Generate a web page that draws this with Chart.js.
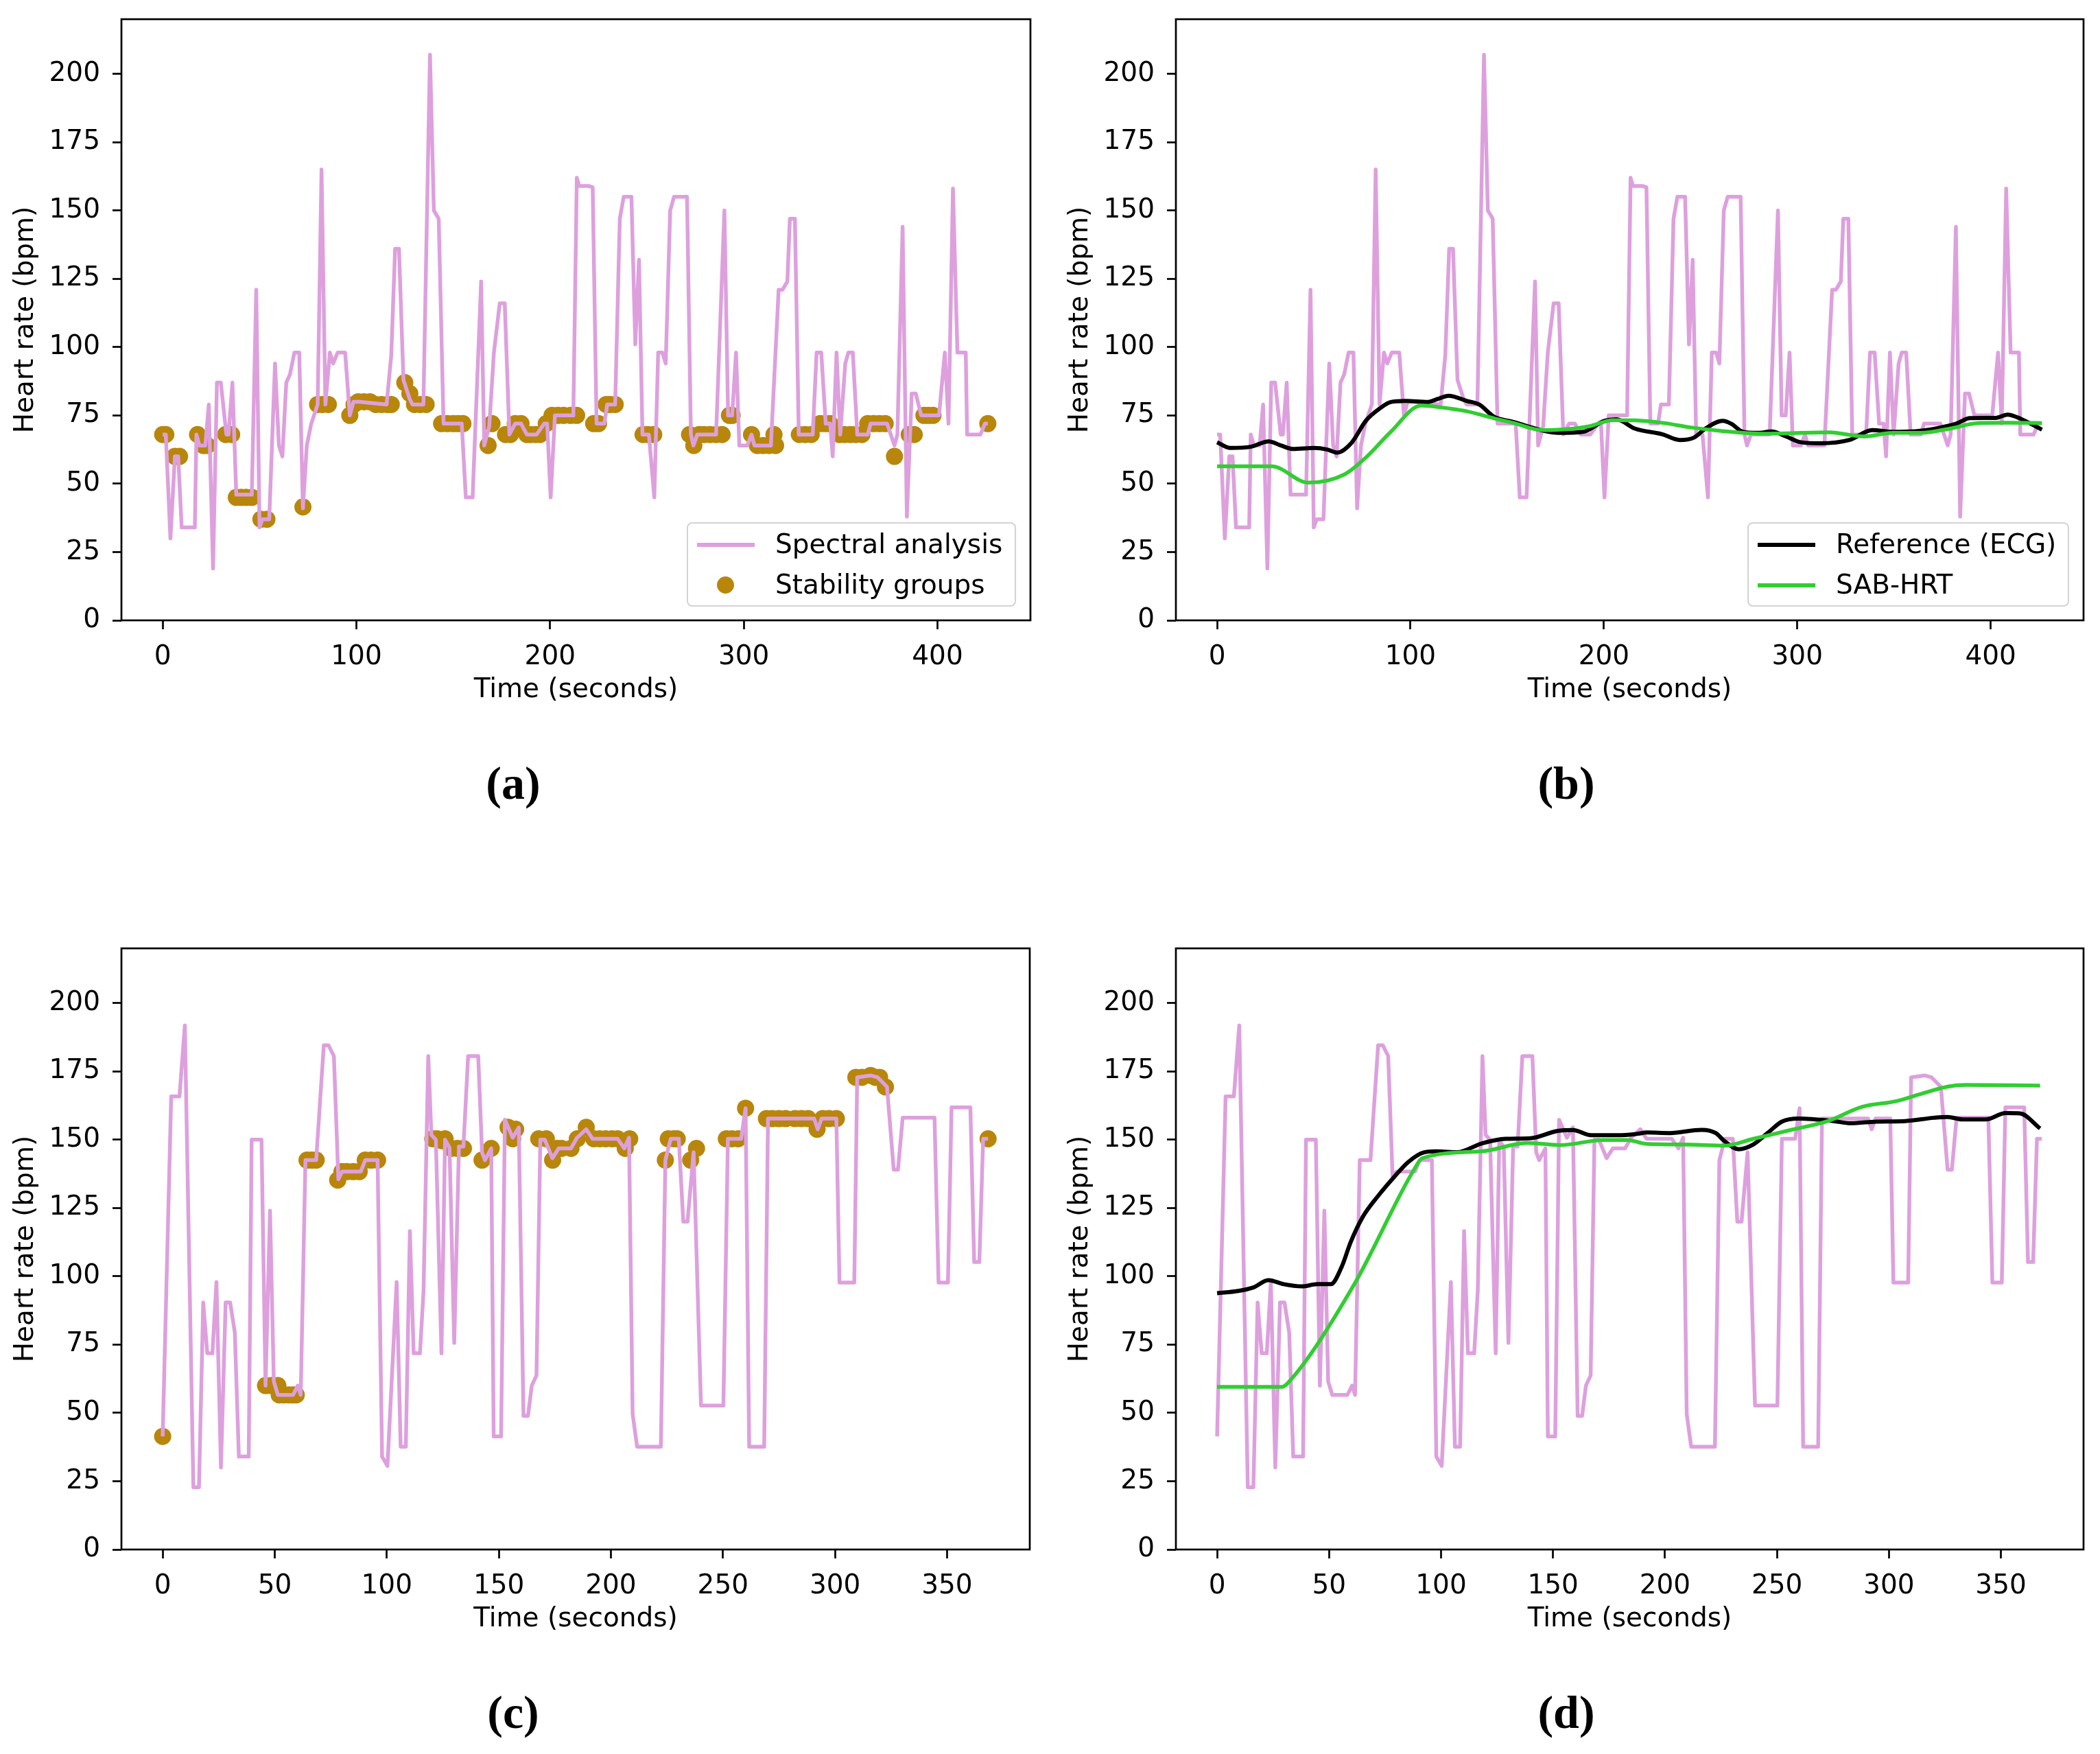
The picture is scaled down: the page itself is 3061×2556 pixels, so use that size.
<!DOCTYPE html>
<html><head><meta charset="utf-8">
<script src="https://cdn.jsdelivr.net/npm/chart.js@4.4.1/dist/chart.umd.min.js"></script>
<style>
html,body{margin:0;padding:0;background:#fff;}
body{width:3061px;height:2556px;position:relative;overflow:hidden;font-family:'DejaVu Sans',sans-serif;}
canvas{position:absolute;}
.sub{position:absolute;font-family:'Liberation Serif','DejaVu Serif',serif;font-weight:bold;font-size:68px;line-height:1;transform:translate(-50%,-50%);color:#000;}
.legend{position:absolute;box-sizing:border-box;border:2.5px solid #d3d3d3;border-radius:8px;background:rgba(255,255,255,0.8);}
.lt{position:absolute;font-family:'DejaVu Sans';font-size:39px;line-height:46px;color:#000;white-space:nowrap;}
.ls{position:absolute;height:5.5px;}
.ld{position:absolute;width:25px;height:25px;border-radius:50%;background:#B8860B;}
</style></head>
<body>
<canvas id="ca"></canvas><canvas id="cb"></canvas><canvas id="cc"></canvas><canvas id="cd"></canvas>

<div class="legend" style="left:1001px;top:761px;width:480px;height:123px;">
  <div class="ls" style="left:13px;top:28px;width:84px;background:#DDA0DD;"></div>
  <div class="lt" style="left:127px;top:7px;">Spectral analysis</div>
  <div class="ld" style="left:42px;top:77px;"></div>
  <div class="lt" style="left:127px;top:66px;">Stability groups</div>
</div>
<div class="legend" style="left:2547px;top:761px;width:469px;height:123px;">
  <div class="ls" style="left:13px;top:28px;width:84px;background:#000;"></div>
  <div class="lt" style="left:127px;top:7px;">Reference (ECG)</div>
  <div class="ls" style="left:13px;top:87px;width:84px;background:#32CD32;"></div>
  <div class="lt" style="left:127px;top:66px;">SAB-HRT</div>
</div>

<div class="sub" style="left:748px;top:1141px;">(a)</div>
<div class="sub" style="left:2283px;top:1141px;">(b)</div>
<div class="sub" style="left:748px;top:2495px;">(c)</div>
<div class="sub" style="left:2283px;top:2495px;">(d)</div>

<script>
// ---------- data (time in seconds, heart rate in bpm) ----------
const spectralA = [[0,68],[1.6,68],[4,30],[6.3,60],[8,60],[9.8,34],[16.6,34],[17.4,68],[19,64],[22,64],[23.8,79],[26,19],[28,87],[30,87],[32.9,68],[34,68],[36,87],[38,46],[46,46],[48.3,121],[50,34],[51.5,37],[55,37],[58,94],[60,64],[61.8,60],[63.8,87],[65.7,90],[68,98],[70.5,98],[72.4,41],[74.4,64],[76.7,72],[80,79],[82,165],[84,79],[86.3,98],[88,94],[90.3,98],[94.2,98],[96.6,75],[98.5,80],[101.5,80],[115.6,79],[118,97],[120,136],[122,136],[124.3,88],[127.5,81],[129,79],[134.6,79],[138,207],[140,150],[142.5,147],[145,72],[154.4,72],[156.5,45],[160,45],[164.4,124],[166,64],[168.6,71],[171,98],[174,116],[176.6,116],[179,68],[182,72],[185,72],[188,68],[193,68],[197,72],[198.5,72],[200.3,45],[202.5,75],[212,75],[213.8,162],[215,159],[219.8,159],[222,158.5],[224,72],[228,72],[229.5,79],[233.6,79],[236,147],[238,155],[242,155],[244,101],[245.9,132],[247.7,68],[251,68],[253.8,45],[255.8,98],[258,98],[259.7,94],[262,150],[264,155],[270.7,155],[272.7,68],[274,64],[276,68],[285.7,68],[290,150],[291.9,75],[294,75],[296,98],[297.7,64],[301.8,64],[304,68],[305.5,64],[314,64],[318,121],[320,121],[322.5,124],[323.8,147],[326.4,147],[328.4,68],[335.6,68],[337.6,98],[340,98],[342.3,72],[344.6,72],[345.9,60],[347.9,98],[349.8,68],[352.4,94],[354,98],[356.3,98],[358.6,68],[364,68],[365.5,72],[374,72],[377.8,64],[379.3,68],[382,144],[384.2,38],[386.7,83],[388.8,83],[391.6,75],[400.8,75],[403.8,98],[405.7,72],[408,158],[410.3,98],[414.6,98],[415.3,68],[422.2,68],[424.5,72],[426,72]];

const stabilityA = [[0,68],[1.6,68],[6.3,60],[8.7,60],[18,68],[21,64],[23,64],[32.5,68],[35.6,68],[38,45],[40.5,45],[43,45],[46,45],[50.7,37],[53.8,37],[72.4,41.5],[80,79],[82.5,79],[85.5,79],[96.6,75],[98.8,79],[101,80],[104,80],[107,80],[110,79],[113,79],[116,79],[118,79],[125,87],[127.6,83],[130,79],[133,79],[136,79],[144,72],[147,72],[150,72],[152.5,72],[155,72],[168,64],[170,72],[177,68],[179.5,68],[182,72],[185,72],[188,68],[190,68],[192.5,68],[194.8,68],[198,72],[201,75],[204,75],[207,75],[210.6,75],[213.7,75],[222.5,72],[225,72],[229,79],[231,79],[233.6,79],[248,68],[250.5,68],[253.5,68],[272,68],[274.2,64],[277,68],[279.6,68],[282.6,68],[285.7,68],[288.8,68],[292.6,75],[294,75],[304,68],[307,64],[310,64],[313,64],[315.6,68],[316.4,64],[328.7,68],[331.7,68],[334.8,68],[339.4,72],[342,72],[344.5,72],[349.4,68],[352,68],[355,68],[357.8,68],[361,68],[364,72],[367,72],[370,72],[373,72],[377.8,60],[385.4,68],[388,68],[393,75],[395.3,75],[397.7,75],[426,72]];

const referenceB = [[0,65.2],[6.9,63.1],[17.2,63.5],[26.7,65.5],[33,64],[39.3,62.7],[50.3,63.1],[57,62.5],[62.2,61.4],[69.3,64.8],[77.1,73.2],[84,77.5],[89.8,79.9],[97.6,80.3],[108.7,79.9],[114,81],[119.7,82.2],[129.2,80.3],[135.5,79],[143.4,74.4],[152.9,72.7],[160.7,71],[168.6,69.4],[176.5,68.6],[189.1,69],[200.2,73],[206.5,73.6],[216,70.2],[230.2,68.1],[239.2,66],[246.6,66.9],[252.5,70.2],[261.5,73],[265.9,71.9],[271.9,69],[279.3,68.6],[286.8,69.1],[294.2,67.3],[301.7,65.2],[312,64.8],[326.9,66],[338.8,69.6],[349.2,69],[361.1,69.2],[371.6,70.2],[381.9,71.9],[389.4,74],[402.7,74.1],[408.7,75.3],[416,73.6],[426.5,69.8]];

const sabHrtB = [[0,56.4],[28.2,56.4],[47.2,50.4],[66.1,53.5],[77.1,59.7],[89.8,69],[105.5,78.6],[121.3,77.4],[129.2,76.5],[145,73.6],[152.9,72.3],[168.6,69.6],[184.4,70.2],[192.3,71],[204.9,73.3],[215.4,73.2],[230.2,72.3],[245,70.6],[259.9,69.4],[282.2,68.3],[316.4,68.8],[334.3,67.3],[349.2,68.6],[364.1,68.6],[379,70.2],[393.9,72.2],[408.7,72.3],[426.5,72.2]];

const spectralC = [[0,41.4],[3.8,165.8],[7.5,165.8],[9.9,191.8],[13.7,22.8],[16.2,22.8],[18.1,90.4],[19.9,71.8],[22.2,71.8],[24,97.9],[26,30],[28.1,90.4],[30.1,90.4],[32.2,79.4],[34,34],[38.4,34],[39.7,150],[44.1,150],[45.9,60],[47.9,124],[49.6,61.5],[51.4,56.6],[58.2,56.6],[60.3,60],[61.6,56.6],[63.7,142.5],[68.5,142.5],[69.9,160],[71.9,184.5],[74,184.5],[76.4,180.6],[78.4,135.5],[80.1,138.3],[88.4,138.3],[90.4,142.5],[95.9,142.5],[97.9,34],[100.3,30.6],[104.4,97.9],[106.2,37.6],[108.5,37.6],[110.3,116.5],[112,71.8],[114.8,71.8],[116.4,94.6],[118.5,180.6],[119.9,151.7],[121.9,150],[124.4,71.8],[126,150],[128,147],[130.1,75.6],[132.2,147.5],[134.2,147.5],[136.3,180.6],[140.8,180.6],[142.5,145.4],[143.8,142.5],[146.6,146.8],[147.7,41.4],[151,41.4],[152.7,157.3],[156.2,150.7],[158.9,154.5],[161,48.9],[163,48.9],[164.7,60],[166.8,63.7],[168.5,150],[170.5,150],[173.9,143.2],[176.7,146.8],[182.2,146.8],[184.9,150.7],[189,153.8],[191.8,150.3],[203,150.3],[206,146.8],[208.1,150.7],[209.7,49.6],[211.7,37.6],[222.3,37.6],[224.3,142.5],[226.7,150.3],[230.3,150.3],[232.3,120],[234.2,120],[236.9,145.4],[240.2,52.7],[250.2,52.7],[252.2,150.3],[258.1,150.3],[260.1,161.5],[261.7,37.6],[268.4,37.6],[270.1,157.7],[290.7,157.7],[292.3,153.8],[294,157.7],[300.6,157.7],[302,97.7],[308.6,97.7],[309.9,172.8],[315.9,173.5],[319,172.8],[321.2,171],[323.2,169.3],[326.2,139],[328.1,139],[330.2,158],[344.4,158],[346.2,97.7],[350.4,97.7],[352,161.8],[360.4,161.8],[362.1,105.2],[364.4,105.2],[366.1,150.3],[368.3,150.3]];

const stabilityC = [[0,41.4],[45.9,60],[48.5,60],[51.4,60],[52,56.6],[54,56.6],[56.2,56.6],[58,56.6],[59.6,56.6],[64.4,142.5],[66.5,142.5],[68.5,142.5],[78.1,135.2],[80,138.3],[82.2,138.3],[85,138.3],[87.7,138.3],[90.4,142.5],[93,142.5],[95.9,142.5],[120.5,150.3],[122.5,150.3],[124.7,149.6],[126,150.3],[128.8,146.8],[131.5,146.8],[134.2,146.8],[142.5,142.5],[146.6,146.8],[154.1,154.5],[156.2,150.3],[157.5,153.8],[167.8,150.3],[171.2,150.3],[174,142.5],[176,146.8],[178,146.8],[182.2,146.8],[185,150.3],[189,154.5],[192.4,150.3],[195,150.3],[197.7,150.3],[200.5,150.3],[203,150.3],[206.4,146.8],[208.4,150.3],[224.3,142.5],[225.6,150.3],[228,150.3],[229.6,150.3],[235.6,142.5],[238.2,146.8],[251.5,150.3],[254,150.3],[256.8,150.3],[260.1,161.5],[269.4,157.7],[272,157.7],[275,157.7],[278,157.7],[282.1,157.7],[285,157.7],[288,157.7],[292,153.8],[294.5,157.7],[297.3,157.7],[300.6,157.7],[309.3,172.8],[312,172.8],[315.9,173.5],[318,172.8],[319.9,172.8],[322.5,169.3],[368.3,150.3]];

const referenceD = [[0,93.8],[9.4,94.6],[16.2,95.9],[22.9,98.6],[29.8,97.1],[37.9,96.3],[44.7,97.1],[50.8,97.1],[55.6,103.4],[59.7,112.6],[65.1,121.8],[71.9,129.4],[78.7,136],[85.5,141.9],[92.3,145.3],[97.8,145.7],[107.2,145.4],[118.1,148.6],[128.9,150.3],[139.8,150.5],[152.1,153.2],[158.9,153.5],[167,151.6],[179.2,151.6],[187.4,152.1],[191.9,152.6],[202.2,152.4],[216.3,153.6],[222.7,152.4],[226.5,149.5],[232.9,146.5],[239.4,148.2],[245.8,152.4],[252.2,156.6],[259.8,157.7],[275.2,156.8],[282.9,156],[294.4,156.6],[307.2,156.8],[320.1,158],[326.2,158.3],[332.9,157.4],[343.1,157.4],[352.1,159.7],[358.5,159.6],[367.5,154.1]];

const sabHrtD = [[0,59.5],[29.1,59.5],[31.8,61.1],[61,96.7],[88.2,139.4],[91.6,143.2],[118.1,145.7],[138.5,148.8],[153.4,148],[172.5,149.9],[183.3,149.9],[191.3,148.5],[211.2,148.2],[226.5,147.8],[239.4,150.3],[256,153.5],[272.7,156.8],[288,162],[303.3,164.1],[313.7,166.6],[326.2,169.4],[334.2,170],[367.5,169.8]];

const yTickValues = [0,25,50,75,100,125,150,175,200];
const xTicksAB = [0,100,200,300,400];
const xTicksCD = [0,50,100,150,200,250,300,350];
const xRangeAB = [-21.3, 448];
const xRangeCD = [-18.4, 386.9];

// ---------- helpers ----------
const pts = arr => arr.map(p => ({x: p[0], y: p[1]}));
Chart.defaults.font.family = "'DejaVu Sans'";
Chart.defaults.color = '#000';

const framePlugin = {
  id: 'frame',
  afterDraw(chart) {
    const {ctx, chartArea: a} = chart;
    ctx.save();
    ctx.strokeStyle = '#000';
    ctx.lineWidth = 2.7;
    ctx.strokeRect(a.left, a.top, a.right - a.left, a.bottom - a.top);
    ctx.restore();
  }
};

function spectralSet(arr) {
  return {data: pts(arr), borderColor: '#DDA0DD', borderWidth: 5.5, pointRadius: 0, tension: 0,
          borderJoinStyle: 'round', order: 1};
}

function makeChart(id, left, top, width, padRight, datasets, xr, xTicks) {
  const c = document.getElementById(id);
  c.width = width; c.height = 1070;
  c.style.left = left + 'px'; c.style.top = top + 'px';
  c.style.width = width + 'px'; c.style.height = '1070px';
  new Chart(c, {
    type: 'line',
    data: {datasets},
    options: {
      responsive: false, animation: false, devicePixelRatio: 1,
      layout: {padding: {top: 28, right: padRight, left: 0, bottom: 0}},
      plugins: {legend: {display: false}, tooltip: {enabled: false}},
      scales: {
        x: {
          type: 'linear', min: xr[0], max: xr[1],
          afterFit: s => { s.height = 166; s.paddingLeft = 0; s.paddingRight = 0; },
          afterBuildTicks: s => { s.ticks = xTicks.map(v => ({value: v})); },
          grid: {display: true, drawOnChartArea: false, drawTicks: true, tickLength: 13, tickWidth: 2.7, tickColor: '#000'},
          border: {display: false},
          ticks: {color: '#000', font: {size: 39}, padding: 17, maxRotation: 0, autoSkip: false},
          title: {display: true, text: 'Time (seconds)', color: '#000', font: {size: 39}, padding: {top: 0, bottom: 41}}
        },
        y: {
          type: 'linear', min: 0, max: 220,
          afterFit: s => { s.width = 177; s.paddingTop = 0; s.paddingBottom = 0; },
          afterBuildTicks: s => { s.ticks = yTickValues.map(v => ({value: v})); },
          grid: {display: true, drawOnChartArea: false, drawTicks: true, tickLength: 13, tickWidth: 2.7, tickColor: '#000'},
          border: {display: false},
          ticks: {color: '#000', font: {size: 39}, padding: 18, autoSkip: false},
          title: {display: true, text: 'Heart rate (bpm)', color: '#000', font: {size: 39}, padding: {top: 14, bottom: 0}}
        }
      }
    },
    plugins: [framePlugin]
  });
}

// (a) spectral + stability groups
makeChart('ca', 0, 0, 1530, 28, [
  spectralSet(spectralA),
  {data: pts(stabilityA), showLine: false, pointRadius: 12.5, pointBackgroundColor: '#B8860B', pointBorderWidth: 0, borderColor: '#B8860B', order: 2}
], xRangeAB, xTicksAB);

// (b) spectral + reference + SAB-HRT
makeChart('cb', 1537, 0, 1524, 24, [
  {...spectralSet(spectralA), order: 3},
  {data: pts(referenceB), borderColor: '#000', borderWidth: 6, pointRadius: 0, cubicInterpolationMode: 'monotone', order: 2},
  {data: pts(sabHrtB), borderColor: '#32CD32', borderWidth: 5.5, pointRadius: 0, cubicInterpolationMode: 'monotone', order: 1}
], xRangeAB, xTicksAB);

// (c)
makeChart('cc', 0, 1354, 1530, 29, [
  spectralSet(spectralC),
  {data: pts(stabilityC), showLine: false, pointRadius: 12.5, pointBackgroundColor: '#B8860B', pointBorderWidth: 0, borderColor: '#B8860B', order: 2}
], xRangeCD, xTicksCD);

// (d)
makeChart('cd', 1537, 1354, 1524, 24, [
  {...spectralSet(spectralC), order: 3},
  {data: pts(referenceD), borderColor: '#000', borderWidth: 6, pointRadius: 0, cubicInterpolationMode: 'monotone', order: 2},
  {data: pts(sabHrtD), borderColor: '#32CD32', borderWidth: 5.5, pointRadius: 0, cubicInterpolationMode: 'monotone', order: 1}
], xRangeCD, xTicksCD);
</script>
</body></html>
